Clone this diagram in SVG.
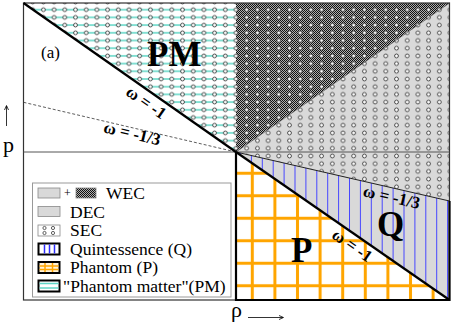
<svg xmlns="http://www.w3.org/2000/svg" width="452" height="327" viewBox="0 0 452 327">
<style>
text{font-family:"Liberation Serif","DejaVu Serif",serif;fill:#000}
.big{font-weight:bold;font-size:35px}
.om{font-weight:bold;font-size:17px}
.leg{font-size:17.5px}
.thick{stroke:#000;stroke-width:2.2;fill:none}
.sw{stroke:#888;stroke-width:0.8}
</style>
<defs>
<pattern id="circ" patternUnits="userSpaceOnUse" x="230.65" y="5.85" width="10.7" height="7.7">
<circle cx="5.35" cy="3.85" r="1.9" fill="#fff" stroke="#222" stroke-width="0.8"/>
</pattern>
<pattern id="cyan" patternUnits="userSpaceOnUse" x="0" y="5.85" width="10" height="7.7">
<rect x="0" y="3.1" width="10" height="1.5" fill="#5fd6c6"/>
</pattern>
<pattern id="check" patternUnits="userSpaceOnUse" x="0" y="0" width="2" height="2">
<rect width="2" height="2" fill="#b0b0b0"/>
<rect width="1" height="1" fill="#111"/>
<rect x="1" y="1" width="1" height="1" fill="#111"/>
</pattern>
<pattern id="blue" patternUnits="userSpaceOnUse" x="240" y="0" width="10.9" height="10">
<rect x="0" y="0" width="1" height="10" fill="#4646ff"/>
</pattern>
<pattern id="orange" patternUnits="userSpaceOnUse" x="241" y="162" width="22.6" height="22.5">
<rect x="9.8" y="0" width="3" height="22.5" fill="#ffa500"/>
<rect x="0" y="9.75" width="22.6" height="3" fill="#ffa500"/>
</pattern>
</defs>

<g id="regions">
<rect x="23.5" y="3" width="426" height="297" fill="#fff"/>
<g id="PM-region">
<polygon points="23.5,3 236,3 236,152" fill="url(#cyan)"/>
<polygon points="23.5,3 236,3 236,152" fill="url(#circ)"/>
</g>
<g id="WEC-region">
<polygon points="236,3 449.5,3 236,152" fill="url(#check)"/>
<polygon points="236,3 449.5,3 236,152" fill="url(#circ)"/>
</g>
<g id="DEC-region">
<polygon points="236,152 449.5,3 449.5,300" fill="#d9d9d9"/>
<polygon points="236,152 449.5,3 449.5,201" fill="url(#circ)"/>
</g>
<g id="Q-region">
<polygon points="236,152 449.5,201 449.5,300" fill="url(#blue)"/>
</g>
<g id="P-region">
<polygon points="236,152 236,300 449.5,300" fill="url(#orange)"/>
</g>
</g>

<g id="lines">
<rect x="23.5" y="3" width="426" height="297" fill="none" stroke="#333" stroke-width="1.2"/>
<line x1="23.5" y1="152" x2="449.5" y2="152" stroke="#555" stroke-width="1"/>
<line x1="236" y1="152" x2="449.5" y2="3" stroke="#333" stroke-width="0.6"/>
<line x1="23.5" y1="102.3" x2="236" y2="152" stroke="#333" stroke-width="0.8" stroke-dasharray="3,2"/>
<line x1="236" y1="152" x2="449.5" y2="201" stroke="#222" stroke-width="1"/>
<line class="thick" x1="23.5" y1="3" x2="236" y2="152"/>
<polyline class="thick" points="236,152 236,300 449.5,300 449.5,201"/>
<line class="thick" x1="236" y1="152" x2="449.5" y2="300"/>
</g>

<g id="labels">
<text x="41" y="58" font-size="17">(a)</text>
<text class="big" x="147" y="66">PM</text>
<text class="big" x="377" y="236">Q</text>
<text class="big" x="291" y="262">P</text>
<text class="om" text-anchor="middle" transform="translate(143.1,107.1) rotate(35)">ω = -1</text>
<text class="om" text-anchor="middle" transform="translate(130.9,138.9) rotate(13.2)">ω = -1/3</text>
<text class="om" text-anchor="middle" font-size="15.5" transform="translate(390.4,202.4) rotate(13)">ω = -1/3</text>
<text class="om" text-anchor="middle" font-size="15.5" transform="translate(349.1,250.1) rotate(35)">ω = -1</text>
</g>

<g id="legend">
<rect x="32.5" y="183" width="198.5" height="114" fill="#fff" stroke="#999" stroke-width="1"/>
<rect class="sw" x="38" y="188" width="22" height="10" fill="#d9d9d9"/>
<text x="64" y="197" font-size="12">+</text>
<rect class="sw" x="76" y="188" width="20" height="10" fill="url(#check)"/>
<text class="leg" x="106" y="199">WEC</text>
<rect class="sw" x="38" y="206.5" width="22" height="10" fill="#d9d9d9"/>
<text class="leg" x="70" y="217.5">DEC</text>
<rect class="sw" x="38" y="225" width="22" height="11" fill="#fff"/>
<g fill="#fff" stroke="#222" stroke-width="0.7">
<circle cx="44.5" cy="228" r="1.6"/><circle cx="53" cy="228" r="1.6"/>
<circle cx="44.5" cy="233" r="1.6"/><circle cx="53" cy="233" r="1.6"/>
</g>
<text class="leg" x="70" y="236">SEC</text>
<rect x="38.5" y="243.5" width="21" height="11" fill="#fff" stroke="#000" stroke-width="2"/>
<g stroke="#2e2eff" stroke-width="1.5">
<line x1="44.5" y1="244.5" x2="44.5" y2="253.5"/><line x1="49.5" y1="244.5" x2="49.5" y2="253.5"/><line x1="54.5" y1="244.5" x2="54.5" y2="253.5"/>
</g>
<text class="leg" x="70" y="254.5">Quintessence (Q)</text>
<rect x="38.5" y="262" width="21" height="11" fill="#fff3d9" stroke="#000" stroke-width="2"/>
<g stroke="#ffa500" stroke-width="1.5">
<line x1="45" y1="263" x2="45" y2="272"/><line x1="52.5" y1="263" x2="52.5" y2="272"/>
<line x1="39.5" y1="266" x2="58.5" y2="266"/><line x1="39.5" y1="269.5" x2="58.5" y2="269.5"/>
</g>
<text class="leg" x="70" y="273">Phantom (P)</text>
<rect x="38.5" y="280.5" width="21" height="11" fill="#fff" stroke="#000" stroke-width="2"/>
<g stroke="#5fd6c6" stroke-width="1.5">
<line x1="39.5" y1="283.5" x2="58.5" y2="283.5"/><line x1="39.5" y1="288" x2="58.5" y2="288"/>
</g>
<text class="leg" x="63" y="291.5">"Phantom matter"(PM)</text>
</g>

<g id="axes" stroke="#000" stroke-width="0.8" fill="none">
<line x1="6.5" y1="126" x2="6.5" y2="106"/>
<polyline points="4.5,110 6.5,105.5 8.5,110"/>
<line x1="248" y1="317.5" x2="283" y2="317.5"/>
<polyline points="279,315.5 283.5,317.5 279,319.5"/>
</g>
<text x="3" y="152" font-size="22">p</text>
<text x="231" y="317" font-size="22">ρ</text>
</svg>
